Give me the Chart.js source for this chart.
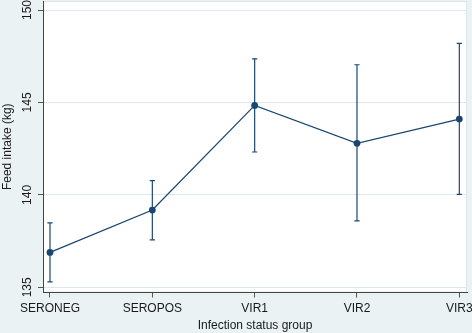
<!DOCTYPE html>
<html><head><meta charset="utf-8">
<style>html,body{margin:0;padding:0;background:#eaf2f3;}#wrap{width:472px;height:333px;}</style>
<script src="https://cdn.jsdelivr.net/npm/chart.js@4/dist/chart.umd.min.js"></script>
</head><body><div id="wrap"><canvas id="c" width="472" height="333"></canvas></div>
<script>
const categories = ['SERONEG', 'SEROPOS', 'VIR1', 'VIR2', 'VIR3'];
const meanIntake = [136.89, 139.18, 144.84, 142.79, 144.10];
const ciLower = [135.30, 137.57, 142.32, 138.59, 140.03];
const ciUpper = [138.49, 140.77, 147.36, 147.04, 148.19];
const yTicks = [135, 140, 145, 150];
const xTickPositions = [0, 1, 2, 3, 4];

const NAVY = '#1a476f';
const BG = '#eaf2f3';
const LIGHT = '#dce7ea';

const meanPoints = categories.map((c, i) => ({x: i, y: meanIntake[i]}));
const whiskers = [];
categories.forEach((c, i) => {
  whiskers.push({x: i, y: ciLower[i]});
  whiskers.push({x: i, y: ciUpper[i]});
  whiskers.push({x: i, y: null});
});
const caps = [];
categories.forEach((c, i) => {
  caps.push({x: i, y: ciLower[i]});
  caps.push({x: i, y: ciUpper[i]});
});

const bgPlugin = {
  id: 'bg',
  beforeDraw(chart) {
    const {ctx, chartArea: a} = chart;
    ctx.save();
    ctx.fillStyle = BG;
    ctx.fillRect(0, 0, chart.width, chart.height);
    ctx.fillStyle = '#ffffff';
    ctx.fillRect(a.left, a.top, a.right - a.left, a.bottom - a.top);
    ctx.strokeStyle = LIGHT;
    ctx.lineWidth = 1;
    ctx.strokeRect(a.left + 0.5, a.top + 0.5, a.right - a.left - 1, a.bottom - a.top - 1);
    ctx.restore();
  }
};

Chart.defaults.font.family = "'Liberation Sans', Arial, Helvetica, sans-serif";
Chart.defaults.font.size = 12;
Chart.defaults.color = '#1a1a1a';

new Chart(document.getElementById('c'), {
  type: 'line',
  data: {
    datasets: [
      {data: whiskers, borderColor: NAVY, borderWidth: 1.2, pointRadius: 0, spanGaps: false, fill: false},
      {data: caps, showLine: false, pointStyle: 'line', pointRadius: 2.6, borderColor: NAVY, pointBorderWidth: 1.2, pointBorderColor: NAVY},
      {data: meanPoints, borderColor: NAVY, borderWidth: 1.3, pointRadius: 3.4, pointBackgroundColor: NAVY, pointBorderColor: NAVY, pointBorderWidth: 0, fill: false, tension: 0}
    ]
  },
  options: {
    responsive: false,
    animation: false,
    devicePixelRatio: 1,
    layout: {autoPadding: false, padding: {top: 1, right: 5, bottom: 0, left: 0}},
    plugins: {legend: {display: false}, tooltip: {enabled: false}},
    scales: {
      x: {
        type: 'linear', min: -0.0684, max: 4.075,
        afterBuildTicks(s) { s.ticks = xTickPositions.map(v => ({value: v})); },
        afterFit(s) { s.height = 40.5; s.paddingLeft = 0; s.paddingRight = 0; },
        ticks: {padding: 4, maxRotation: 0, autoSkip: false, callback: (v) => categories[v] ?? ''},
        grid: {drawOnChartArea: false, drawTicks: true, tickLength: 5, tickColor: '#555'},
        border: {display: true, color: '#444', width: 1},
        title: {display: true, text: 'Infection status group', padding: {top: 0, bottom: 0}, font: {size: 12}}
      },
      y: {
        type: 'linear', min: 134.72, max: 150.487,
        afterBuildTicks(s) { s.ticks = yTicks.map(v => ({value: v})); },
        afterFit(s) { s.width = 43; s.paddingTop = 0; s.paddingBottom = 0; },
        ticks: {padding: 0, minRotation: 90, maxRotation: 90, crossAlign: 'center'},
        grid: {color: LIGHT, lineWidth: 1, drawTicks: true, tickLength: 5, tickColor: '#555'},
        border: {display: true, color: '#444', width: 1},
        title: {display: true, text: 'Feed intake (kg)', padding: {top: 0, bottom: 0}, font: {size: 12}}
      }
    }
  },
  plugins: [bgPlugin]
});
</script>
</body></html>
